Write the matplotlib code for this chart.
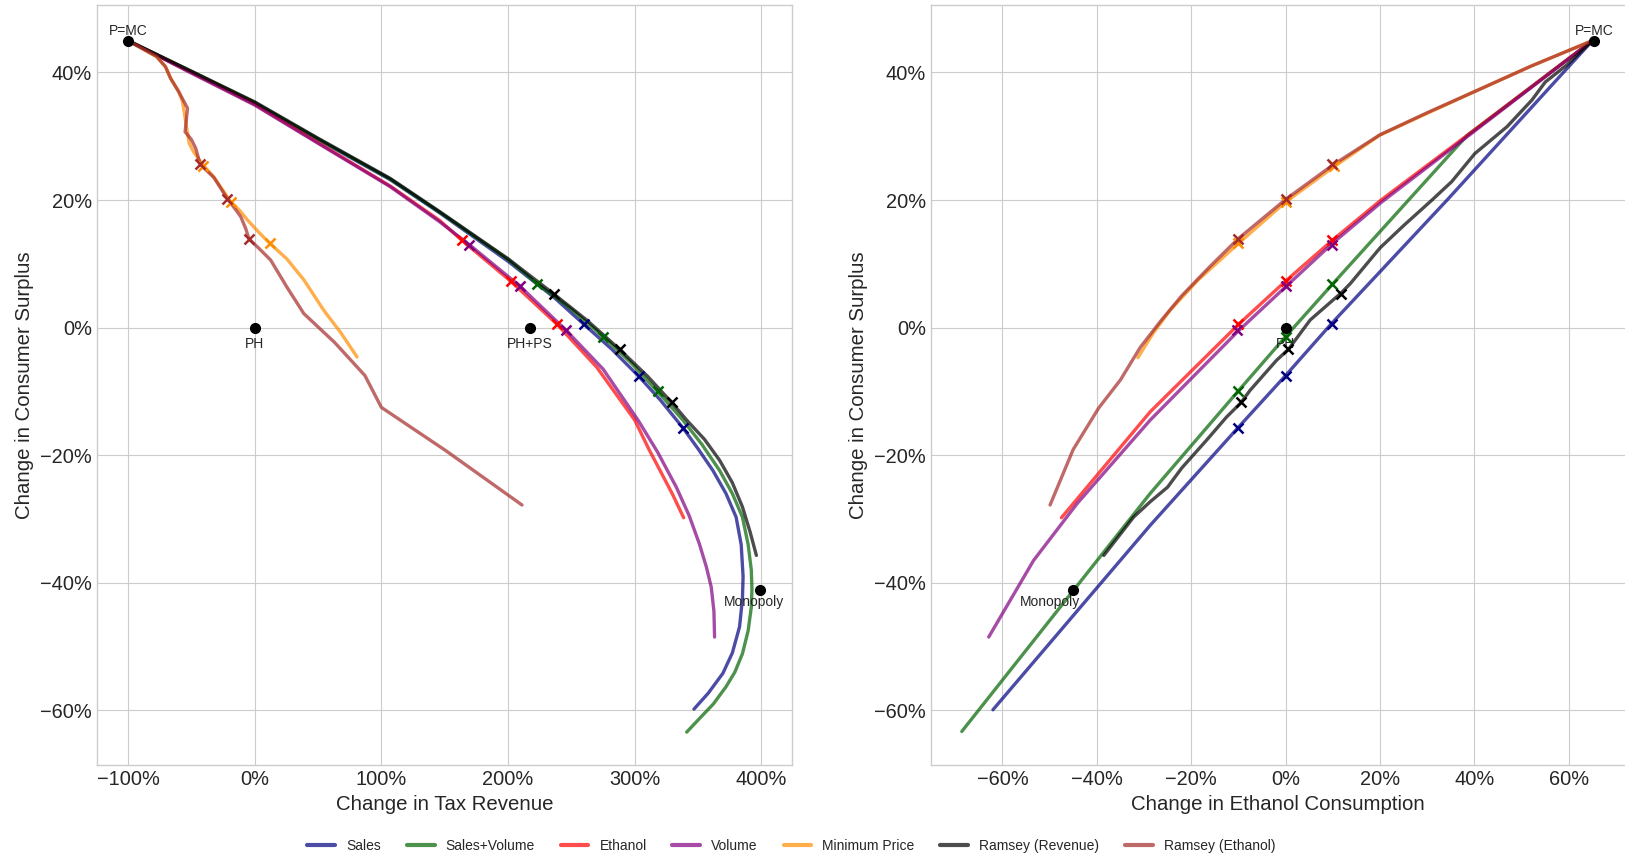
import matplotlib
matplotlib.use("Agg")
import matplotlib.pyplot as plt
from matplotlib.ticker import FuncFormatter
from matplotlib.lines import Line2D

plt.style.use("seaborn-v0_8-whitegrid")
plt.rcParams["font.family"] = ["Liberation Sans", "DejaVu Sans"]
plt.rcParams["axes.unicode_minus"] = True

names = ["Sales", "Sales+Volume", "Ethanol", "Volume", "Minimum Price",
         "Ramsey (Revenue)", "Ramsey (Ethanol)"]
line_colors = ["navy", "darkgreen", "red", "purple", "darkorange", "black", "brown"]

# ---- left panel: change in tax revenue (%) vs change in consumer surplus (%)
sales_rev = [-100, -50, 0, 50, 107, 146, 200, 236, 260, 282, 303, 320, 338, 350, 361.7, 372,
             380, 384, 385.5, 385, 382.7, 377, 369.5, 358, 346.7]
sales_cs = [45, 40.1, 35.2, 29.5, 23.2, 18, 10.4, 4.8, 0.5, -3.4, -7.6, -11.3, -15.7, -19,
            -22.4, -26, -29.7, -34, -39, -42.5, -46.9, -51, -54.2, -57.3, -59.8]

salesvol_rev = [-100, -50, 0, 50, 107, 146, 200, 223, 250, 275, 297, 318, 338, 353, 367, 377,
                385, 389.5, 392, 392.5, 392, 389.5, 385, 379, 372, 362, 350, 341]
salesvol_cs = [45, 40.2, 35.3, 29.6, 23.3, 18.1, 10.7, 6.9, 2.9, -1.4, -5.5, -10, -14.5, -18.3,
               -22.4, -26, -29.7, -34, -38, -41, -43.8, -47.5, -51.1, -54, -56.3, -59.0, -61.5, -63.4]

ethanol_rev = [-100, -50, 0, 50, 107, 146, 163.5, 202, 238.8, 270, 300, 311, 320, 330, 338.6]
ethanol_cs = [45, 40, 35, 29, 22.2, 16.8, 13.7, 7.3, 0.5, -6.2, -14.5, -19, -22.4, -26.2, -29.8]

volume_rev = [-100, -50, 0, 50, 107, 146, 169.5, 209.4, 245.7, 275, 302.6, 318, 332.8, 343, 351,
              356.5, 360.4, 362.5, 363]
volume_cs = [45, 39.9, 34.9, 28.9, 22.1, 16.6, 13, 6.5, -0.4, -6.5, -14.5, -19.5, -25, -29.5, -33.9,
             -37.5, -40.7, -44.5, -48.5]

minprice_rev = [-100, -91, -77.4, -70.4, -66.4, -60, -57, -55, -53, -51.7, -48, -40.4, -33, -25,
                -18.9, -12, -5.8, 3, 12, 25.3, 38.8, 54.6, 68, 80.8]
minprice_cs = [45, 44, 42.5, 40.9, 39.1, 37, 35.5, 33, 30.5, 28.9, 27.5, 25.4, 23.8, 21.5,
               19.7, 18.4, 16.9, 15, 13.2, 10.8, 7.5, 2.7, -0.8, -4.6]

ramseyrev_rev = [-100, -50, 0, 50, 107, 146, 200, 236, 262, 288, 310, 329, 341, 355, 367, 377,
                 385, 391, 396]
ramseyrev_cs = [45, 40.2, 35.4, 29.7, 23.4, 18.2, 10.8, 5.3, 1.2, -3.4, -7.6, -11.7, -14.5, -17.5,
                -20.8, -24.3, -28.1, -32, -35.7]

ramseyeth_rev = [-100, -91, -77.4, -70.4, -66.4, -60, -53, -54.9, -50, -46.5, -43, -32, -21.5,
                 -15, -11, -7, -4.5, 3, 12.6, 25.3, 38.8, 63, 87, 100, 151, 211]
ramseyeth_cs = [45, 44, 42.5, 40.9, 39.1, 37, 34.4, 30.7, 29.5, 28.1, 25.6, 23.5, 20.2,
                18.5, 17.4, 15.5, 13.9, 12.5, 10.6, 6.4, 2.2, -2.3, -7.5, -12.5, -19.3, -27.8]

# ---- right panel: change in ethanol consumption (%) vs change in consumer surplus (%)
sales_eth = [65, 34.2, 9.8, 0, -10.1, -28.7, -62]
sales_cs_r = [45, 20, 0.7, -7.5, -15.7, -31, -59.9]

salesvol_eth = [65, 38.4, 9.9, 0, -10, -28.7, -68.6]
salesvol_cs_r = [45, 30.1, 6.8, -1.4, -9.9, -26, -63.3]

ethanol_eth = [65, 40, 20.2, 9.9, 0, -10, -28.7, -47.5]
ethanol_cs_r = [45, 31, 20, 13.7, 7.3, 0.5, -13.2, -29.8]

volume_eth = [65, 40, 20.2, 9.9, 0, -10, -28.7, -44.2, -53.4, -62.9]
volume_cs_r = [45, 30.8, 19.6, 13.2, 6.4, -0.5, -14.5, -27.6, -36.5, -48.5]

minprice_eth = [65, 52, 40.3, 30, 20, 10.2, 0, -10, -18.5, -24.5, -28, -31.3]
minprice_cs_r = [45, 41, 37.1, 33.6, 30.2, 25.2, 19.7, 13.2, 7.5, 2.7, -0.8, -4.7]

ramseyrev_eth = [65, 59.6, 55, 52.2, 46.9, 40.1, 35.2, 31, 25, 20, 13.7, 11.7, 5.2, 0.6, -1.9,
                 -7.5, -9.5, -12.5, -16.7, -22, -25, -28.7, -32.2, -38.5]
ramseyrev_cs_r = [45, 41.2, 38.5, 35.7, 31.5, 27.3, 22.9, 20, 16, 12.5, 6.9, 5.4, 1.2, -3.4, -5.1,
                  -9.8, -11.8, -14, -17.6, -22, -25, -27.3, -29.7, -35.7]

ramseyeth_eth = [65, 52, 40.3, 30, 19.9, 10, 0, -10.1, -16, -22, -26.5, -30.8, -35, -39.6, -45, -49.9]
ramseyeth_cs_r = [45, 41, 37.1, 33.7, 30.2, 25.5, 20.1, 13.9, 9.6, 5, 1, -3.1, -8.2, -12.6, -19.1, -27.8]

# ---- marked tax levels on each curve
mark_cs = [[0.5, -7.6, -15.7], [6.9, -1.4, -10], [13.7, 7.3, 0.5], [13, 6.5, -0.4],
           [25.4, 19.7, 13.2], [5.3, -3.4, -11.7], [25.6, 20.2, 13.9]]
mark_rev = [[260, 303, 338], [223, 275, 318], [163.5, 202, 238.8], [169.5, 209.4, 245.7],
            [-40.4, -18.9, 12], [236, 288, 329], [-43, -21.5, -4.5]]
mark_eth = [[9.8, 0, -10.1], [9.9, 0, -10], [9.9, 0, -10], [9.9, 0, -10.2],
            [10.2, 0, -10], [11.7, 0.6, -9.5], [9.8, 0, -10.1]]

# ---- reference points
points_left = {"P=MC": (-100, 45), "PH": (0, 0), "PH+PS": (217, 0), "Monopoly": (399, -41.1)}
points_right = {"P=MC": (65.3, 45), "PH": (0, 0), "Monopoly": (-45, -41.1)}

left_curves = [(sales_rev, sales_cs), (salesvol_rev, salesvol_cs), (ethanol_rev, ethanol_cs),
               (volume_rev, volume_cs), (minprice_rev, minprice_cs),
               (ramseyrev_rev, ramseyrev_cs), (ramseyeth_rev, ramseyeth_cs)]
right_curves = [(sales_eth, sales_cs_r), (salesvol_eth, salesvol_cs_r), (ethanol_eth, ethanol_cs_r),
                (volume_eth, volume_cs_r), (minprice_eth, minprice_cs_r),
                (ramseyrev_eth, ramseyrev_cs_r), (ramseyeth_eth, ramseyeth_cs_r)]

fig = plt.figure(figsize=(16.25, 8.56), dpi=100)
ax1 = fig.add_axes([0.0595, 0.106, 0.4278, 0.8883])
ax2 = fig.add_axes([0.5727, 0.106, 0.4273, 0.8883])

pct = FuncFormatter(lambda v, _: f"{v:.0f}%".replace("-", "\u2212"))


def draw_panel(ax, curves, mark_x, points):
    for (xs, ys), c in zip(curves, line_colors):
        ax.plot(xs, ys, color=c, alpha=0.7, lw=2.4, solid_capstyle="round",
                solid_joinstyle="round")
    for mx, my, c in zip(mark_x, mark_cs, line_colors):
        ax.plot(mx, my, "x", color=c, ms=6.5, mew=1.8, zorder=4)
    for label, (px, py) in points.items():
        ax.plot(px, py, "o", color="black", ms=7, zorder=5)
        if label == "P=MC":
            ax.annotate(label, (px, py), xytext=(0, 4), textcoords="offset points",
                        ha="center", va="baseline", fontsize=10, color="0.15")
        elif label == "Monopoly":
            ax.annotate(label, (px - 5, py), xytext=(0, -4), textcoords="offset points",
                        ha="center", va="top", fontsize=10, color="0.15")
        else:
            ax.annotate(label, (px, py), xytext=(0, -7), textcoords="offset points",
                        ha="center", va="top", fontsize=10, color="0.15")
    ax.xaxis.set_major_formatter(pct)
    ax.yaxis.set_major_formatter(pct)
    ax.set_yticks([-60, -40, -20, 0, 20, 40])
    ax.set_ylim(-68.6, 50.6)
    ax.tick_params(labelsize=14.4, colors="0.15")
    ax.set_ylabel("Change in Consumer Surplus", fontsize=14.7, color="0.15")
    for s in ax.spines.values():
        s.set_color("0.8")


draw_panel(ax1, left_curves, mark_rev, points_left)
ax1.set_xticks([-100, 0, 100, 200, 300, 400])
ax1.set_xlim(-124.7, 424)
ax1.set_xlabel("Change in Tax Revenue", fontsize=14.7, color="0.15")

draw_panel(ax2, right_curves, mark_eth, points_right)
ax2.set_xticks([-60, -40, -20, 0, 20, 40, 60])
ax2.set_xlim(-75.2, 71.9)
ax2.set_xlabel("Change in Ethanol Consumption", fontsize=14.7, color="0.15")
ax2.spines["right"].set_visible(False)

handles = [Line2D([0], [0], color=c, alpha=0.7, lw=3) for c in line_colors]
fig.legend(handles, names, loc="lower center", bbox_to_anchor=(0.487, -0.011), ncol=7,
           frameon=False, fontsize=10, columnspacing=1.85)

fig.savefig("out.png", dpi=100)
